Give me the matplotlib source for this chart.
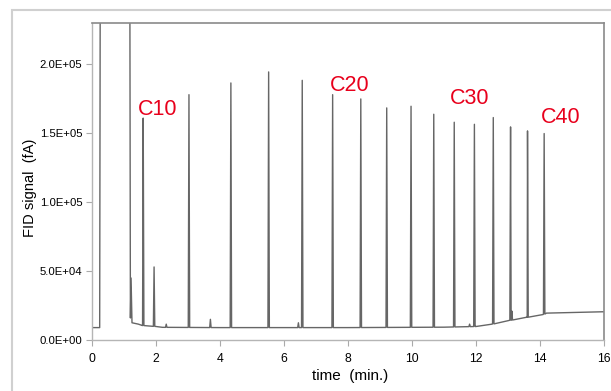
import matplotlib
matplotlib.use("Agg")
import matplotlib.pyplot as plt
import numpy as np
from matplotlib.patches import Rectangle

plt.rcParams['font.family'] = ['Liberation Sans', 'DejaVu Sans']

# baseline knots (min, fA) incl. the off-scale solvent front
base_t = [0.0, 0.24, 0.26, 1.18, 1.20, 1.22, 1.25, 1.45, 1.58, 2.0, 2.2, 4.0, 8.0,
          11.0, 12.0, 12.5, 13.0, 13.6, 14.1, 14.2, 16.0]
base_y = [9000, 9000, 300000, 300000, 16000, 45000, 12500, 11500, 10500, 9800, 9200,
          9000, 9000, 9300, 9800, 11500, 14000, 16500, 18500, 19500, 20500]

# n-alkane peaks: retention time and apex height
peak_t = [1.60, 1.94, 2.32, 3.03, 3.70, 4.34, 5.52, 6.45, 6.57, 7.52, 8.40, 9.21,
          9.97, 10.68, 11.32, 11.80, 11.95, 12.54, 13.08, 13.12, 13.61, 14.13]
peak_h = [161000, 53000, 11500, 178000, 15000, 186500, 194500, 12500, 188400, 178000,
          174900, 168400, 169600, 163800, 158000, 11500, 156500, 161400, 154600, 21000,
          151700, 149800]

labels = ['C10', 'C20', 'C30', 'C40']
label_t = [1.44, 7.44, 11.19, 14.03]
label_y = [163000, 180600, 171000, 157500]

xticks = [0, 2, 4, 6, 8, 10, 12, 14, 16]
yticks = [0, 50000, 100000, 150000, 200000]
ytick_labels = ['0.0E+00', '5.0E+04', '1.0E+05', '1.5E+05', '2.0E+05']

# build trace: baseline knots plus a narrow triangle per peak
hw = 0.022
tt = list(base_t)
yy = list(base_y)
for t, h in zip(peak_t, peak_h):
    foot = np.interp(t, base_t, base_y)
    tt += [t - hw, t, t + hw]
    yy += [foot, h, foot]
order = np.argsort(tt, kind='stable')
tt = np.array(tt)[order]
yy = np.array(yy)[order]

fig = plt.figure(figsize=(6.11, 3.91), dpi=100)
fig.patches.append(Rectangle((12/611, -0.1), 1.2, 1 - 10/391 + 0.1, transform=fig.transFigure,
                             fill=False, edgecolor='#d0d0d0', lw=1.5))
ax = fig.add_axes([92/611, 1 - 340/391, 512/611, 317/391])
ax.plot(tt, yy, color='#666666', lw=1.0)

for lab, x, y in zip(labels, label_t, label_y):
    ax.text(x, y, lab, color='#e8001c', fontsize=15.5, ha='left', va='baseline')

ax.set_xlim(0, 16)
ax.set_ylim(0, 230000)
ax.set_xticks(xticks)
ax.set_xticklabels([str(v) for v in xticks], fontsize=8.8)
ax.set_yticks(yticks)
ax.set_yticklabels(ytick_labels, fontsize=8.2)
ax.tick_params(direction='out', length=4, color='#aaaaaa', pad=3)
ax.tick_params(axis='x', pad=5)
for s in ['top', 'right']:
    ax.spines[s].set_color('#8a8a8a')
    ax.spines[s].set_linewidth(1.2)
for s in ['left', 'bottom']:
    ax.spines[s].set_color('#b5b5b5')
    ax.spines[s].set_linewidth(1.0)

fig.text(350/611, 1 - 376/391, 'time  (min.)', fontsize=11, ha='center', va='center')
fig.text(30/611, 1 - 188/391, 'FID signal  (fA)', fontsize=10.5, ha='center', va='center',
         rotation=90)

fig.savefig('out.png', dpi=100)
